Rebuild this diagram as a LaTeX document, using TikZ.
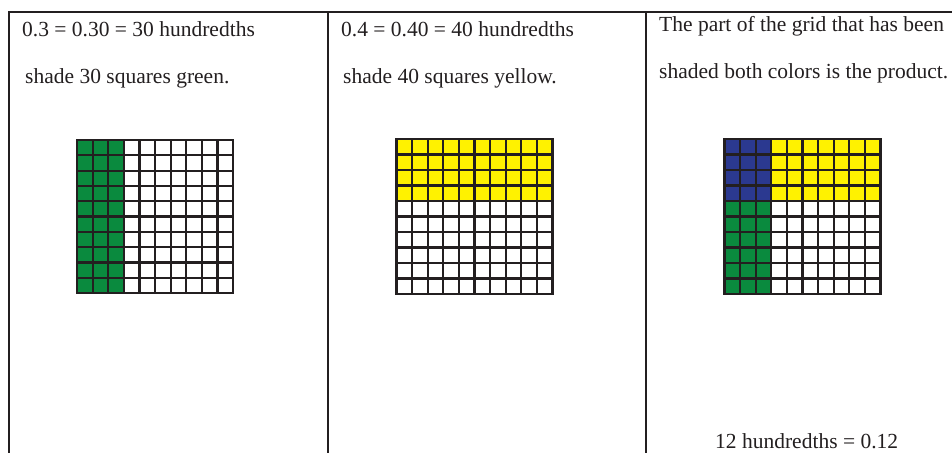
\documentclass[tikz,border=0pt]{standalone}
\usepackage{fontspec}
\setmainfont{Liberation Serif}
\definecolor{gGreen}{HTML}{0A8A3E}
\definecolor{gYellow}{HTML}{FFF200}
\definecolor{gBlue}{HTML}{2B3990}
\definecolor{ink}{HTML}{231F20}
\begin{document}
\begin{tikzpicture}[x=1pt,y=-1pt,
  txt/.style={anchor=base west, inner sep=0pt, text=ink, font=\fontsize{21.5}{26}\selectfont},
  border/.style={line width=2pt, draw=ink},
  gridline/.style={line width=2.2pt, draw=ink, line cap=rect}]
\useasboundingbox (0,0) rectangle (952,453);
\fill[white] (0,0) rectangle (952,453);
% table borders
\draw[border] (8,12) -- (952,12);
\draw[border] (9,12) -- (9,453);
\draw[border] (327.5,12) -- (327.5,453);
\draw[border] (646,12) -- (646,453);
% texts
\node[txt] (t1a) at (22,36) {0.3 = 0.30 = 30 hundredths};
\node[txt] (t1b) at (25,83) {shade 30 squares green.};
\node[txt] (t2a) at (341,36) {0.4 = 0.40 = 40 hundredths};
\node[txt] (t2b) at (343,83) {shade 40 squares yellow.};
\node[txt] (t3a) at (659,31) {The part of the grid that has been};
\node[txt] (t3b) at (659,78) {shaded both colors is the product.};
\node[txt] (t3c) at (715,448) {12 hundredths = 0.12};
% grid 1
\begin{scope}[shift={(77,140)}, xscale=15.6, yscale=15.3]
  \fill[white] (0,0) rectangle (10,10);
  \fill[gGreen] (0,0) rectangle (3,10);
  \foreach \i in {0,...,10} {
    \draw[gridline] (\i,0) -- (\i,10);
    \draw[gridline] (0,\i) -- (10,\i);
  }
\end{scope}
% grid 2
\begin{scope}[shift={(396.5,139)}, xscale=15.6, yscale=15.5]
  \fill[white] (0,0) rectangle (10,10);
  \fill[gYellow] (0,0) rectangle (10,4);
  \foreach \i in {0,...,10} {
    \draw[gridline] (\i,0) -- (\i,10);
    \draw[gridline] (0,\i) -- (10,\i);
  }
\end{scope}
% grid 3
\begin{scope}[shift={(724.5,139)}, xscale=15.6, yscale=15.5]
  \fill[white] (0,0) rectangle (10,10);
  \fill[gYellow] (3,0) rectangle (10,4);
  \fill[gGreen] (0,4) rectangle (3,10);
  \fill[gBlue] (0,0) rectangle (3,4);
  \foreach \i in {0,...,10} {
    \draw[gridline] (\i,0) -- (\i,10);
    \draw[gridline] (0,\i) -- (10,\i);
  }
\end{scope}
\end{tikzpicture}
\end{document}
